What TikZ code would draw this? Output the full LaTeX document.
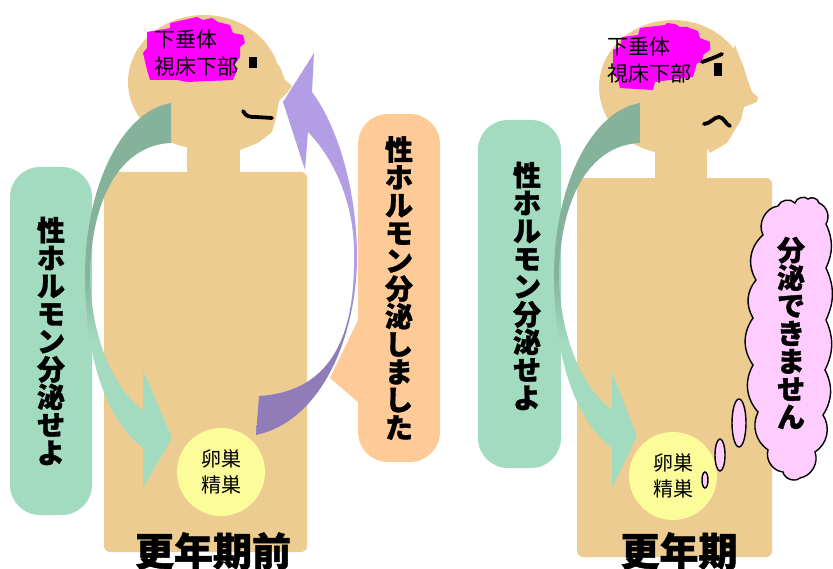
\documentclass[tikz,border=0pt]{standalone}
\usepackage{fontspec}
\newfontfamily\jp{Noto Sans CJK JP}[BoldFeatures={FakeBold=1.2}]
\definecolor{skin}{HTML}{EDCC92}
\definecolor{leafL}{HTML}{A3DBC0}
\definecolor{leafD}{HTML}{84B29A}
\definecolor{peach}{HTML}{FECB98}
\definecolor{lavL}{HTML}{B39DE4}
\definecolor{lavD}{HTML}{8F7CB8}
\definecolor{gland}{HTML}{FCFC9B}
\definecolor{brain}{HTML}{FF00FF}
\definecolor{puff}{HTML}{FFCCFF}
% vertical colour ramps for the two curved arrows
\pgfdeclareverticalshading{leafgrad}{100bp}{color(0bp)=(leafL); color(44bp)=(leafL); color(53bp)=(leafD); color(100bp)=(leafD)}
\pgfdeclareverticalshading{lavgrad}{100bp}{color(0bp)=(lavD); color(37bp)=(lavD); color(47bp)=(lavL); color(100bp)=(lavL)}
\tikzset{
  vtxt/.style={font=\jp\bfseries\fontsize{28}{27.8}\selectfont, align=center, inner sep=0pt},
  organ/.style={font=\jp\fontsize{21}{27}\selectfont, align=left, inner sep=0pt},
  gonad/.style={circle, fill=gland, minimum size=88pt, inner sep=0pt, font=\jp\fontsize{20}{26}\selectfont, align=center},
  era/.style={font=\jp\bfseries\fontsize{39}{40}\selectfont, inner sep=0pt},
  bubble/.style={fill=puff, draw=black, line width=1.4pt},
  feature/.style={line width=3.8pt, line cap=round, line join=round},
  pane/.style={rounded corners=30pt},
}
\begin{document}
\begin{tikzpicture}[x=1pt,y=-1pt]
\useasboundingbox (0,0) rectangle (833,569);
\clip (0,0) rectangle (833,569);

% ---------------- figure before menopause ----------------
% body, neck, head
\fill[skin, rounded corners=6pt] (104,172) rectangle (307,552);
\fill[skin] (187,140) rectangle (240,176);
\fill[skin] (204,82) ellipse [x radius=76, y radius=67];
\fill[skin] (262,45) -- (280,67) -- (285,80) -- (292,86) -- (287,93) -- (279,101)
  -- (276,118) -- (272,132) -- (258,143) -- (240,150) -- (225,120) -- cycle;
% hypothalamus / pituitary area
\fill[brain] (170,23) -- (197,17) -- (203,20) -- (212,18) -- (218,22) -- (230,25)
  -- (233,33) -- (243,35) -- (245,43) -- (240,47) -- (240,57) -- (233,67)
  -- (238,68) -- (233,80) -- (187,82) -- (177,80) -- (150,80) -- (147,70)
  -- (143,53) -- (147,48) -- (147,32) -- (170,28) -- cycle;
\node[organ, anchor=west] (brainL) at (154,53.5) {下垂体\\視床下部};
% face
\fill (249,57) rectangle (257,68);
\draw[feature] (243,111) .. controls (246,117) and (250,117) .. (256,117) -- (272,118);

% command box and descending arrow
\node[pane, fill=leafL, minimum width=82pt, minimum height=348pt] (cmdL) at (51,341) {};
\node[vtxt] (cmdLtxt) at (cmdL.center) {性\\ホ\\ル\\モ\\ン\\分\\泌\\せ\\よ};
\path[shading=leafgrad] (171,103) .. controls (120,112) and (84,190) .. (85,280)
  .. controls (86,370) and (112,425) .. (143,448) -- (143,488) -- (172,438)
  -- (143,370) -- (143,410) .. controls (115,390) and (92,340) .. (90,280)
  .. controls (90,200) and (120,145) .. (171,143) -- cycle;

% reply callout and ascending arrow
\fill[peach] (359,318) -- (330,378) -- (359,403) -- cycle;
\node[pane, fill=peach, minimum width=82pt, minimum height=348pt] (replyL) at (399,288) {};
\node[vtxt] (replyLtxt) at (replyL.center) {性\\ホ\\ル\\モ\\ン\\分\\泌\\し\\ま\\し\\た};
\path[shading=lavgrad] (314,53) -- (312,92) .. controls (340,130) and (357,195) .. (357,257)
  .. controls (357,330) and (325,420) .. (256,435) -- (259,396)
  .. controls (325,392) and (355,345) .. (354,257)
  .. controls (355,205) and (335,160) .. (308,132) -- (305,170) -- (283,102) -- cycle;

% gonads and caption
\node[gonad] (gonadL) at (221,472) {卵巣\\精巣};
\node[era] (eraL) at (213,551) {更年期前};

% ---------------- figure during menopause ----------------
\fill[skin, rounded corners=6pt] (577,178) rectangle (772,557);
\fill[skin] (655,145) rectangle (707,181);
\fill[skin] (673,87) ellipse [x radius=74, y radius=67];
\fill[skin] (735,45) -- (747,78) -- (752,92) -- (758,97) -- (757,102) -- (744,107)
  -- (741,120) -- (733,133) -- (727,143) -- (710,153) -- (695,130) -- cycle;
\fill[brain] (640,28) -- (665,25) -- (667,23) -- (675,24) -- (680,27) -- (687,27)
  -- (698,31) -- (700,38) -- (710,42) -- (710,50) -- (703,55) -- (702,62)
  -- (697,63) -- (693,77) -- (670,80) -- (655,82) -- (653,90) -- (620,88)
  -- (618,80) -- (613,73) -- (613,50) -- (620,47) -- (622,37) -- (638,35) -- cycle;
\node[organ, anchor=west] (brainR) at (607,60) {下垂体\\視床下部};
% troubled face
\fill (714,63) rectangle (722,76);
\draw[feature] (702,62) .. controls (708,60) and (716,57) .. (722,54);
\draw[feature] (704,124) .. controls (710,124) and (714,117) .. (719,117)
  .. controls (724,117) and (726,125) .. (730,126);

\node[pane, fill=leafL, minimum width=83pt, minimum height=348pt] (cmdR) at (519.5,294) {};
\node[vtxt] (cmdRtxt) at (527,286) {性\\ホ\\ル\\モ\\ン\\分\\泌\\せ\\よ};
\begin{scope}[xshift=469pt]
\path[shading=leafgrad] (171,103) .. controls (120,112) and (84,190) .. (85,280)
  .. controls (86,370) and (112,425) .. (143,448) -- (143,488) -- (168,436)
  -- (143,372) -- (143,410) .. controls (115,390) and (92,340) .. (90,280)
  .. controls (90,200) and (120,145) .. (171,143) -- cycle;
\end{scope}

\node[gonad] (gonadR) at (673,476) {卵巣\\精巣};
\node[era] (eraR) at (679,551) {更年期};

% thought bubble
\draw[bubble] (705,480) ellipse [x radius=3, y radius=8];
\draw[bubble] (720,455) ellipse [x radius=5, y radius=16];
\draw[bubble] (739,423) ellipse [x radius=7, y radius=24];
\draw[bubble] (763,235) to[bend left=55] (778,206) to[bend left=60] (795,203)
  to[bend left=60] (808,199) to[bend left=60] (819,203) to[bend left=50] (826,224)
  to[bend left=25] (826,268) to[bend left=25] (826,320) to[bend left=25] (825,370)
  to[bend left=30] (823,415) to[bend left=45] (815,452) to[bend left=50] (800,478)
  to[bend left=60] (783,472) to[bend left=50] (768,450) to[bend left=40] (758,412)
  to[bend left=35] (753,365) to[bend left=35] (753,318) to[bend left=35] (756,280)
  to[bend left=40] cycle;
\node[vtxt] (cant) at (791,333) {分\\泌\\で\\き\\ま\\せ\\ん};
\end{tikzpicture}
\end{document}
